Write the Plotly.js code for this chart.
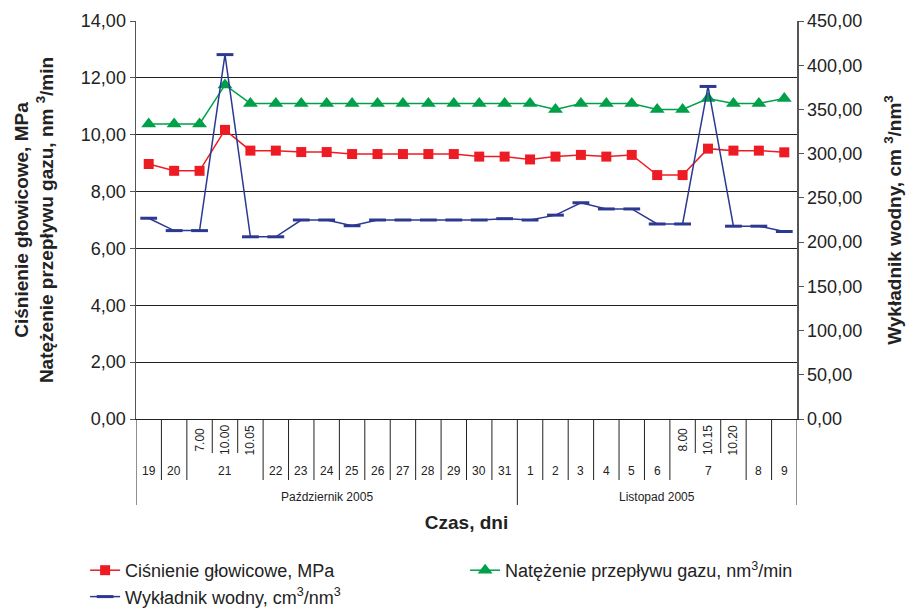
<!DOCTYPE html>
<html><head><meta charset="utf-8">
<script src="https://cdn.plot.ly/plotly-3.0.1.min.js"></script>
<style>html,body{margin:0;padding:0;background:#fff}#chart{width:909px;height:614px}</style>
</head><body><div id="chart"></div>
<script>
// ---- data ----
const months = ['Październik 2005','Październik 2005','Październik 2005','Październik 2005','Październik 2005',
  'Październik 2005','Październik 2005','Październik 2005','Październik 2005','Październik 2005',
  'Październik 2005','Październik 2005','Październik 2005','Październik 2005','Październik 2005',
  'Listopad 2005','Listopad 2005','Listopad 2005','Listopad 2005','Listopad 2005','Listopad 2005',
  'Listopad 2005','Listopad 2005','Listopad 2005','Listopad 2005','Listopad 2005'];
const days = ['19','20','21','21','21','22','23','24','25','26','27','28','29','30','31',
  '1','2','3','4','5','6','7','7','7','8','9'];
const times = ['','','7.00','10.00','10.05','','','','','','','','','','',
  '','','','','','','8.00','10.15','10.20','',''];
const pressure = [8.97,8.73,8.73,10.17,9.44,9.44,9.39,9.39,9.32,9.32,9.32,9.32,9.32,9.23,9.23,
  9.13,9.23,9.29,9.23,9.29,8.58,8.58,9.51,9.44,9.44,9.38];
const gasFlow = [10.38,10.38,10.38,11.75,11.10,11.10,11.10,11.10,11.10,11.10,11.10,11.10,11.10,11.10,11.10,
  11.10,10.89,11.10,11.10,11.10,10.89,10.89,11.27,11.10,11.10,11.27];
const waterRatio = [227,213,213,412,206,206,225,225,218.5,225,225,225,225,225,226.5,
  225,230.5,244.5,237.5,237.5,220.5,220.5,376,218,218,212];
const seriesNames = ['Ciśnienie głowicowe, MPa','Natężenie przepływu gazu, nm<sup>3</sup>/min','Wykładnik wodny, cm<sup>3</sup>/nm<sup>3</sup>'];

// ---- layout helpers ----
const FONT = 'Liberation Sans, Arial, sans-serif';
const RED = '#ED1C24', GREEN = '#00A04A', BLUE = '#2B3990', INK = '#222';
const n = days.length;
const idx = days.map((_, i) => i);
const plotTop = 21, plotBottom = 419, plotH = plotBottom - plotTop;
const py = px => (plotBottom - px) / plotH;

const traces = [
  {x: idx, y: pressure, name: seriesNames[0], type: 'scatter', mode: 'lines+markers',
   line: {color: RED, width: 1.5}, marker: {symbol: 'square', size: 10, color: RED}},
  {x: idx, y: gasFlow, name: seriesNames[1], type: 'scatter', mode: 'lines+markers',
   line: {color: GREEN, width: 1.5}, marker: {symbol: 'triangle-up', size: 13, color: GREEN}},
  {x: idx, y: waterRatio, name: seriesNames[2], type: 'scatter', mode: 'lines+markers', yaxis: 'y2',
   line: {color: BLUE, width: 1.5}, marker: {symbol: 'line-ew', size: 12, color: BLUE, line: {color: BLUE, width: 3}}}
];

// ---- category table below the axis ----
const shapes = [];
const annotations = [];
const yTimeBottom = py(453), yDayBottom = py(480), yMonthBottom = py(505);
const vline = (x, y1) => shapes.push({type: 'line', xref: 'x', yref: 'paper', x0: x, x1: x, y0: 0, y1: y1,
  line: {color: INK, width: 1}});
vline(-0.5, yMonthBottom);
vline(n - 0.5, yMonthBottom);
for (let i = 0; i < n - 1; i++) {
  if (months[i] !== months[i + 1]) vline(i + 0.5, yMonthBottom);
  else if (days[i] !== days[i + 1]) vline(i + 0.5, yDayBottom);
  else vline(i + 0.5, yTimeBottom);
}
// time labels
times.forEach((t, i) => {
  if (t) annotations.push({x: i, y: py(440), xref: 'x', yref: 'paper', text: t, showarrow: false,
    textangle: -90, font: {family: FONT, size: 12, color: INK}, xanchor: 'center', yanchor: 'middle'});
});
// day and month labels via runs
function runs(keyFn) {
  const out = []; let s = 0;
  for (let i = 1; i <= n; i++) {
    if (i === n || keyFn(i) !== keyFn(s)) { out.push([s, i - 1]); s = i; }
  }
  return out;
}
runs(i => months[i] + '|' + days[i]).forEach(([a, b]) => {
  annotations.push({x: (a + b) / 2, y: py(471), xref: 'x', yref: 'paper', text: days[a], showarrow: false,
    font: {family: FONT, size: 12, color: INK}, xanchor: 'center', yanchor: 'middle'});
});
runs(i => months[i]).forEach(([a, b]) => {
  annotations.push({x: (a + b) / 2, y: py(497), xref: 'x', yref: 'paper', text: months[a], showarrow: false,
    font: {family: FONT, size: 12, color: INK}, xanchor: 'center', yanchor: 'middle'});
});

const layout = {
  width: 909, height: 614,
  margin: {l: 136, r: 112, t: plotTop, b: 614 - plotBottom, pad: 0, autoexpand: false},
  paper_bgcolor: '#fff', plot_bgcolor: '#fff',
  separators: ', ',
  font: {family: FONT, color: INK},
  showlegend: true,
  legend: {orientation: 'h', x: -0.077, xanchor: 'left', y: py(552), yanchor: 'top',
    entrywidth: 335, font: {family: FONT, size: 18, color: INK}, bgcolor: 'rgba(0,0,0,0)'},
  xaxis: {range: [-0.5, n - 0.5], showticklabels: false, ticks: '', showgrid: false, zeroline: false,
    showline: true, linecolor: INK, linewidth: 1, fixedrange: true,
    title: {text: '<b>Czas, dni</b>', font: {family: FONT, size: 19, color: INK}, standoff: 96}},
  yaxis: {range: [0, 14], dtick: 2, tickformat: '.2f', showgrid: true, gridcolor: INK, gridwidth: 1,
    zeroline: false, showline: true, linecolor: '#555', linewidth: 1.5, ticks: 'outside', ticklen: 5,
    tickcolor: '#555', tickfont: {family: FONT, size: 18, color: INK},
    title: {text: '<b>Ciśnienie głowicowe, MPa<br>Natężenie przepływu gazu, nm <sup>3</sup>/min</b>',
      font: {family: FONT, size: 19, color: INK}, standoff: 22}},
  yaxis2: {range: [0, 450], dtick: 50, tickformat: '.2f', overlaying: 'y', side: 'right', showgrid: false,
    zeroline: false, showline: true, linecolor: '#555', linewidth: 1.5, ticks: 'outside', ticklen: 5,
    tickcolor: '#555', tickfont: {family: FONT, size: 18, color: INK},
    title: {text: '<b>Wykładnik wodny, cm <sup>3</sup>/nm<sup>3</sup></b>',
      font: {family: FONT, size: 19, color: INK}, standoff: 26}},
  shapes: shapes,
  annotations: annotations
};

Plotly.newPlot('chart', traces, layout, {displayModeBar: false, staticPlot: true});
</script></body></html>
